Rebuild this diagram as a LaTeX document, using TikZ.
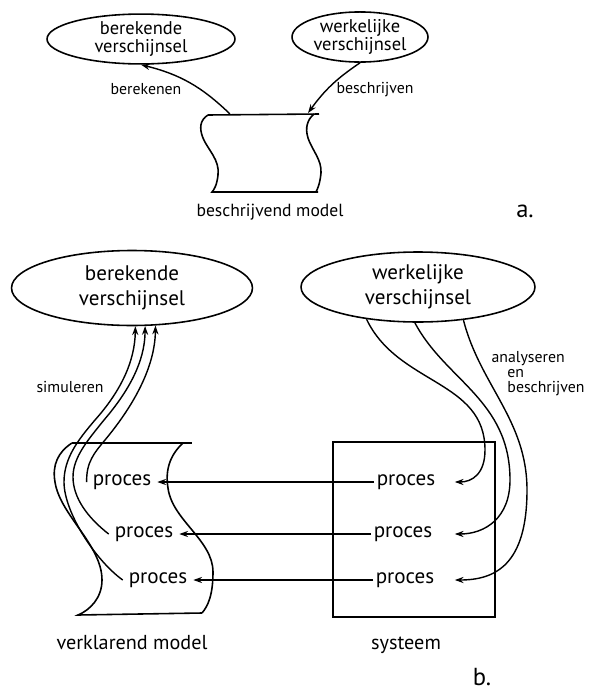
\documentclass[tikz,border=0pt]{standalone}
\usepackage{fontspec}
\setmainfont{PT Sans}
\usepackage{tikz}
\usetikzlibrary{arrows.meta,shapes.geometric,calc}
\tikzset{
  ov/.style={draw, ellipse, line width=0.9pt, inner sep=0pt, align=center},
  pr/.style={inner xsep=3pt, inner ysep=1pt, font=\fontsize{12}{14}\selectfont},
  lbl/.style={font=\fontsize{9}{8.5}\selectfont},
  captxt/.style={font=\fontsize{11.5}{14}\selectfont},
  ar/.style={-{Stealth[length=5pt,width=3.5pt]}, line width=0.8pt},
}

\begin{document}
\begin{tikzpicture}[x=0.02cm, y=-0.02cm, line width=0.9pt]
  \useasboundingbox (0,0) rectangle (593,690);

  \node[ov, minimum width=3.76cm, minimum height=0.84cm, font=\fontsize{10.5}{10.5}\selectfont] (BA) at (141,39) {berekende\\verschijnsel};
  \node[ov, minimum width=2.72cm, minimum height=0.9cm, font=\fontsize{10.5}{10.5}\selectfont] (WA) at (360,37) {werkelijke\\verschijnsel};

  \draw (208,115) -- (319,114);
  \draw (208,115) .. controls (200,120) and (199,128) .. (203,138)
        .. controls (208,150) and (220,160) .. (218,175)
        .. controls (217,185) and (214,190) .. (212,192) -- (318,192);
  \draw (314,114) .. controls (307,120) and (305,128) .. (308,138)
        .. controls (312,150) and (322,160) .. (321,173)
        .. controls (320,183) and (318,188) .. (316,192);
  \coordinate (MA1) at (230,114);
  \coordinate (MA2) at (308,113);

  \draw[ar] (MA1) to[bend right=15] (BA.south);
  \draw[ar] (WA.south) to[bend right=10] (MA2);
  \node[lbl] (L1) at (146,89) {berekenen};
  \node[lbl] (L2) at (375,90) {beschrijven};
  \node[font=\fontsize{10}{12}\selectfont] (MA) at (270,212) {beschrijvend model};
  \node[font=\fontsize{14}{16}\selectfont] (LA) at (525,211) {a.};

  \node[ov, minimum width=4.82cm, minimum height=1.5cm, font=\fontsize{12}{14}\selectfont] (BB) at (132,288) {berekende\\verschijnsel};
  \node[ov, minimum width=4.68cm, minimum height=1.4cm, font=\fontsize{12}{14}\selectfont] (WB) at (418,287) {werkelijke\\verschijnsel};

  \draw (72,443) -- (192,443);
  \draw (72,443) .. controls (58,452) and (52,465) .. (55,482)
        .. controls (60,515) and (102,545) .. (102,580)
        .. controls (102,598) and (90,610) .. (78,615) -- (202,613);
  \draw (183,443) .. controls (170,455) and (165,470) .. (168,488)
        .. controls (172,520) and (213,540) .. (213,572)
        .. controls (213,595) and (208,606) .. (202,613);
  \draw (333,442) rectangle (495,617);

  \node[pr] (P1) at (122,482) {proces};
  \node[pr] (P2) at (144,534) {proces};
  \node[pr] (P3) at (158,580) {proces};
  \node[pr, inner xsep=1pt] (S1) at (406,482) {proces};
  \node[pr, inner xsep=1pt] (S2) at (403,534) {proces};
  \node[pr, inner xsep=1pt] (S3) at (405,580) {proces};

  \draw[ar] (S1) -- (P1);
  \draw[ar] (S2) -- (P2);
  \draw[ar] (S3) -- (P3);

  \draw[ar] (P1.west) .. controls (86,462) and (95,452) .. (105,440)
        .. controls (130,410) and (155,370) .. (BB.-58);
  \draw[ar] (P2.west) .. controls (88,518) and (73,498) .. (73,477)
        .. controls (73,457) and (88,440) .. (104,420)
        .. controls (128,392) and (145,362) .. (BB.-71);
  \draw[ar] (P3.west) .. controls (95,560) and (64,512) .. (64,482)
        .. controls (64,458) and (78,440) .. (95,420)
        .. controls (120,392) and (135,362) .. (BB.-85);

  \draw[ar] (WB.-148) .. controls (398,385) and (485,380) .. (485,450)
        .. controls (485,474) and (472,482) .. ($(S1.east)+(17,0)$);
  \draw[ar] (WB.-95) .. controls (445,380) and (510,400) .. (510,480)
        .. controls (510,518) and (485,534) .. ($(S2.east)+(20,0)$);
  \draw[ar] (WB.-36) .. controls (480,385) and (527,420) .. (527,490)
        .. controls (527,565) and (495,580) .. ($(S3.east)+(18,0)$);

  \node[lbl] (L3) at (70,387) {simuleren};
  \node[lbl, anchor=west, align=left] (L4) at (485,374) {analyseren\\\hspace*{9pt}en\\\hspace*{9pt}beschrijven};
  \node[captxt] (MB) at (132,643) {verklarend model};
  \node[captxt] (SY) at (406,645) {systeem};
  \node[font=\fontsize{14}{16}\selectfont] (LB) at (482,677) {b.};
\end{tikzpicture}
\end{document}
